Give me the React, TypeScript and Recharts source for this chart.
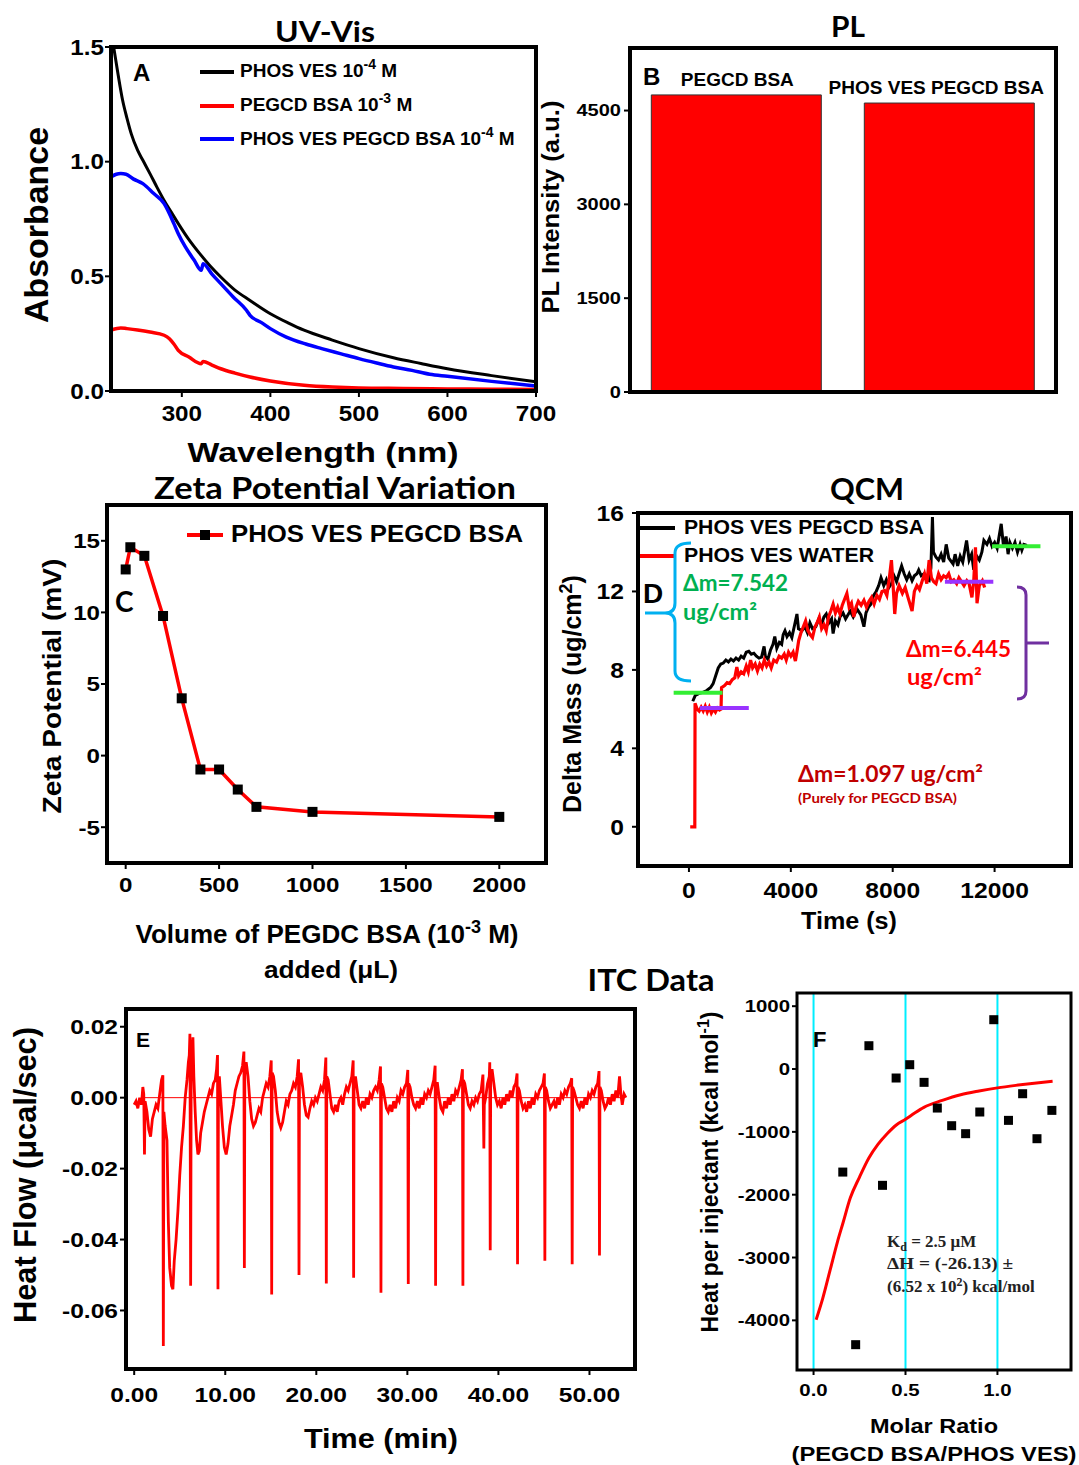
import React from 'react'
import {
  LineChart,
  Line,
  BarChart,
  Bar,
  ComposedChart,
  Scatter,
  XAxis,
  YAxis,
  ReferenceLine,
  LabelList,
} from 'recharts'

const SANS = '"Liberation Sans", Arial, sans-serif'
const CAL = 'Lato, "Open Sans", sans-serif'
const SERIF = '"Liberation Serif", "Times New Roman", serif'

// ---- A: UV-Vis, [wavelength nm, absorbance]
const uvPhosVes = [
  [223, 1.5], [228, 1.38], [233, 1.27], [238, 1.19], [243, 1.12], [250, 1.05], [256, 1.006],
  [264, 0.948], [272, 0.888], [280, 0.831], [288, 0.78], [296, 0.73], [308, 0.66], [320, 0.6],
  [332, 0.545], [344, 0.497], [360, 0.44], [377, 0.395], [400, 0.337], [420, 0.297], [438, 0.265],
  [470, 0.222], [500, 0.185], [539, 0.145], [570, 0.12], [600, 0.097], [650, 0.067], [700, 0.04],
]
const uvPegcd = [
  [221, 0.267], [231, 0.275], [238, 0.272], [250, 0.266], [264, 0.257], [280, 0.243], [286, 0.228],
  [291, 0.205], [296, 0.177], [308, 0.148], [322, 0.119], [324, 0.129], [334, 0.113], [344, 0.097],
  [360, 0.078], [377, 0.061], [400, 0.044], [438, 0.025], [470, 0.017], [500, 0.013], [550, 0.011],
  [600, 0.009], [650, 0.008], [700, 0.006],
]
const uvPhosPegcd = [
  [221, 0.936], [226, 0.945], [231, 0.948], [237, 0.945], [245, 0.925], [256, 0.904], [268, 0.862],
  [280, 0.817], [286, 0.773], [291, 0.73], [296, 0.686], [304, 0.628], [314, 0.57], [322, 0.526],
  [324, 0.555], [334, 0.51], [344, 0.468], [358, 0.41], [373, 0.352], [377, 0.33], [390, 0.298],
  [400, 0.272], [418, 0.235], [440, 0.205], [458, 0.185], [480, 0.162], [500, 0.141], [520, 0.122],
  [539, 0.105], [560, 0.09], [580, 0.073], [600, 0.064], [650, 0.042], [700, 0.022],
]
const uvTicksX = [300, 400, 500, 600, 700]
const uvTicksY = [0, 0.5, 1, 1.5]

// ---- B: PL
const plLabels = ['PEGCD BSA', 'PHOS VES PEGCD BSA']
const plValues = [4750, 4620]
const plTicks = [0, 1500, 3000, 4500]

// ---- C: zeta potential
const zetaVolume = [0, 25, 100, 200, 300, 400, 500, 600, 700, 1000, 2000]
const zetaPotential = [13.0, 14.55, 13.95, 9.75, 4.0, -0.97, -0.97, -2.37, -3.58, -3.93, -4.28]
const zetaTicksX = [0, 500, 1000, 1500, 2000]
const zetaTicksY = [-5, 0, 5, 10, 15]

// ---- D: QCM, [time s, delta mass]
const qcmBlack = [
  [150, 6.4], [250, 6.7], [400, 6.8], [550, 6.85], [700, 6.95], [850, 7.1], [950, 7.3], [1050, 7.7],
  [1150, 8.1], [1250, 8.3], [1350, 8.35], [1450, 8.5], [1550, 8.4], [1650, 8.55], [1750, 8.45],
  [1850, 8.6], [1950, 8.5], [2050, 8.7], [2150, 8.6], [2250, 8.9], [2350, 8.95], [2450, 8.8],
  [2550, 8.85], [2650, 8.7], [2750, 8.6], [2850, 8.65], [2950, 9.2], [3000, 8.7], [3100, 8.55],
  [3200, 9.0], [3300, 9.3], [3370, 9.7], [3450, 9.1], [3550, 9.4], [3640, 9.3], [3700, 9.8],
  [3770, 10.0], [3850, 9.7], [3950, 9.9], [4040, 9.65], [4150, 10.3], [4240, 10.85], [4300, 10.1],
  [4440, 10.0], [4550, 10.2], [4650, 9.9], [4750, 10.4], [4850, 10.1], [4980, 10.2], [5100, 10.6],
  [5200, 10.3], [5300, 10.7], [5390, 10.85], [5500, 10.4], [5600, 10.6], [5660, 9.85], [5750, 10.5],
  [5850, 10.3], [5930, 10.7], [6050, 10.9], [6150, 10.6], [6330, 11.0], [6450, 10.7], [6600, 11.1],
  [6750, 10.8], [6870, 10.2], [6950, 10.9], [7050, 11.2], [7140, 11.35], [7250, 11.8], [7350, 12.0],
  [7450, 12.3], [7540, 12.7], [7650, 12.3], [7750, 12.6], [7850, 12.2], [7950, 12.4], [8050, 12.8],
  [8150, 12.5], [8250, 12.9], [8350, 13.3], [8450, 12.9], [8550, 12.6], [8650, 12.9], [8760, 12.55],
  [8850, 12.8], [8950, 12.9], [9020, 13.1], [9120, 12.8], [9230, 12.9], [9330, 12.6], [9430, 12.55],
  [9500, 13.2], [9560, 15.8], [9600, 14.0], [9700, 13.75], [9800, 13.6], [9900, 13.9], [10000, 13.5],
  [10100, 14.4], [10200, 13.7], [10370, 13.4], [10450, 13.9], [10550, 13.3], [10650, 13.8],
  [10750, 13.5], [10900, 14.6], [11000, 13.6], [11100, 13.9], [11180, 13.1], [11300, 13.8],
  [11400, 13.6], [11500, 14.0], [11580, 14.6], [11700, 14.4], [11800, 14.7], [11900, 14.3],
  [12000, 14.5], [12100, 14.2], [12150, 14.6], [12260, 15.45], [12350, 14.3], [12450, 14.8],
  [12530, 13.9], [12600, 14.5], [12700, 14.2], [12800, 14.5], [12900, 14.0], [13000, 14.4],
  [13070, 14.1], [13150, 14.4], [13270, 14.35],
]
const qcmRed = [
  [50, 0], [230, 0], [240, 6.3], [320, 6.0], [400, 5.9], [480, 6.1], [560, 5.9], [640, 6.15],
  [720, 5.85], [800, 6.1], [880, 5.8], [960, 6.0], [1040, 5.85], [1120, 6.05], [1200, 5.95],
  [1260, 6.0], [1280, 7.1], [1400, 7.2], [1500, 7.35], [1600, 7.3], [1700, 7.5], [1800, 7.6],
  [1880, 8.15], [1950, 7.7], [2050, 7.9], [2150, 7.8], [2250, 8.2], [2330, 7.9], [2420, 8.5],
  [2500, 8.1], [2600, 8.3], [2690, 7.95], [2780, 8.3], [2870, 8.1], [2960, 8.5], [3050, 8.2],
  [3140, 8.4], [3230, 8.1], [3330, 8.5], [3440, 8.4], [3540, 8.7], [3640, 8.6], [3740, 8.8],
  [3820, 8.5], [3910, 8.9], [4000, 8.7], [4090, 8.9], [4180, 8.45], [4250, 9.0], [4310, 9.5],
  [4400, 9.9], [4490, 10.2], [4580, 10.5], [4670, 10.0], [4760, 9.8], [4850, 9.65], [4950, 10.2],
  [5030, 10.4], [5120, 10.7], [5210, 10.1], [5300, 10.3], [5390, 10.0], [5480, 10.7], [5570, 11.0],
  [5660, 11.35], [5750, 10.9], [5840, 11.2], [5930, 10.85], [6020, 11.3], [6110, 11.6], [6200, 11.9],
  [6290, 11.2], [6380, 11.4], [6470, 10.7], [6560, 11.2], [6650, 11.5], [6760, 11.3], [6870, 11.55],
  [6970, 11.2], [7070, 11.5], [7170, 11.7], [7270, 11.35], [7380, 11.8], [7480, 11.6], [7580, 12.0],
  [7680, 12.05], [7770, 11.8], [7860, 12.6], [7950, 13.6], [8020, 12.2], [8080, 10.85], [8150, 11.9],
  [8250, 12.3], [8380, 11.9], [8490, 12.2], [8600, 11.7], [8760, 11.0], [8850, 12.0], [8950, 12.3],
  [9050, 12.1], [9160, 12.55], [9250, 12.9], [9340, 12.4], [9430, 13.6], [9520, 12.7], [9610, 12.5],
  [9700, 12.4], [9800, 12.9], [9900, 12.6], [10000, 12.8], [10100, 12.7], [10200, 12.9],
  [10300, 12.5], [10400, 12.6], [10510, 12.4], [10600, 12.7], [10700, 12.5], [10800, 12.3],
  [10910, 12.55], [11000, 12.4], [11110, 11.7], [11180, 12.5], [11250, 14.25], [11310, 11.4],
  [11400, 12.3], [11520, 12.55], [11610, 12.2],
]
const qcmGreenLow = [[-600, 6.83], [1320, 6.83]]
const qcmGreenHigh = [[11900, 14.3], [13800, 14.3]]
const qcmPurpleLow = [[430, 6.06], [2350, 6.06]]
const qcmPurpleHigh = [[10050, 12.5], [11950, 12.5]]
const qcmTicksX = [0, 4000, 8000, 12000]
const qcmTicksY = [0, 4, 8, 12, 16]

// ---- E: ITC raw heat flow, [time min, µcal/sec]
const itcTrace = [
  [0.0, -0.002], [0.2, -0.001], [0.4, -0.003], [0.6, 0.0], [0.8, -0.002], [0.95, 0.003], [1.05, 0.001],
  [1.13, -0.016], [1.2, -0.001], [1.4, -0.004], [1.6, -0.009], [1.8, -0.011], [2.0, -0.006],
  [2.2, -0.004], [2.4, -0.002], [2.6, -0.003], [2.8, 0.001], [3.0, 0.005], [3.15, 0.0063],
  [3.2, -0.07], [3.26, -0.004], [3.4, -0.008], [3.6, -0.012], [3.75, -0.035], [3.9, -0.048],
  [4.1, -0.053], [4.25, -0.054], [4.4, -0.046], [4.6, -0.04], [4.8, -0.032], [5.0, -0.022],
  [5.2, -0.014], [5.4, -0.008], [5.6, 0.0], [5.8, 0.005], [5.95, 0.01], [6.05, 0.012], [6.12, 0.018],
  [6.2, -0.053], [6.26, 0.008], [6.35, 0.012], [6.45, 0.017], [6.55, 0.006], [6.7, -0.004],
  [6.85, -0.012], [7.0, -0.016], [7.15, -0.015], [7.3, -0.01], [7.5, -0.007], [7.7, -0.004],
  [7.9, -0.002], [8.1, 0.0], [8.3, 0.002], [8.5, 0.001], [8.7, 0.004], [8.9, 0.005], [9.05, 0.008],
  [9.15, 0.012], [9.2, -0.054], [9.25, 0.004], [9.35, 0.006], [9.5, 0.0], [9.7, -0.008],
  [9.9, -0.014], [10.1, -0.016], [10.3, -0.013], [10.5, -0.008], [10.7, -0.005], [10.9, -0.002],
  [11.1, 0.002], [11.3, 0.004], [11.5, 0.006], [11.7, 0.007], [11.9, 0.009], [12.05, 0.013],
  [12.1, -0.048], [12.15, 0.008], [12.3, 0.01], [12.5, 0.006], [12.7, -0.001], [12.9, -0.006],
  [13.1, -0.008], [13.3, -0.007], [13.5, -0.005], [13.7, -0.003], [13.9, -0.004], [14.1, 0.0],
  [14.3, 0.002], [14.5, 0.004], [14.7, 0.003], [14.9, 0.006], [15.05, 0.0105], [15.1, -0.0555],
  [15.15, 0.007], [15.3, 0.006], [15.5, 0.002], [15.7, -0.004], [15.9, -0.007], [16.1, -0.0085],
  [16.3, -0.007], [16.5, -0.004], [16.7, -0.001], [16.9, -0.002], [17.1, 0.001], [17.3, 0.002],
  [17.5, 0.004], [17.7, 0.003], [17.9, 0.006], [18.05, 0.0108], [18.1, -0.05], [18.15, 0.006],
  [18.3, 0.007], [18.5, 0.003], [18.7, -0.002], [18.9, -0.005], [19.1, -0.0055], [19.3, -0.003],
  [19.5, -0.001], [19.7, -0.002], [19.9, 0.0], [20.1, -0.001], [20.3, 0.001], [20.5, 0.003],
  [20.7, 0.002], [20.9, 0.005], [21.05, 0.0113], [21.1, -0.0524], [21.15, 0.006], [21.3, 0.005],
  [21.5, 0.001], [21.7, -0.003], [21.9, -0.004], [22.1, -0.002], [22.3, -0.004], [22.5, -0.001],
  [22.7, 0.0], [22.9, -0.002], [23.1, 0.001], [23.3, 0.003], [23.5, 0.002], [23.7, 0.004],
  [23.9, 0.006], [24.05, 0.0105], [24.1, -0.0508], [24.15, 0.005], [24.3, 0.006], [24.5, 0.002],
  [24.7, -0.002], [24.9, -0.003], [25.1, -0.001], [25.3, -0.003], [25.5, 0.0], [25.7, -0.002],
  [25.9, 0.001], [26.1, 0.0], [26.3, 0.002], [26.5, 0.003], [26.7, 0.002], [26.9, 0.005],
  [27.05, 0.0088], [27.1, -0.055], [27.15, 0.004], [27.3, 0.003], [27.5, 0.0], [27.7, -0.003],
  [27.9, -0.004], [28.1, -0.002], [28.3, -0.004], [28.5, -0.001], [28.7, -0.003], [28.9, 0.0],
  [29.1, -0.001], [29.3, 0.002], [29.5, 0.001], [29.7, 0.003], [29.9, 0.004], [30.05, 0.0078],
  [30.1, -0.0525], [30.15, 0.004], [30.3, 0.003], [30.5, 0.0], [30.7, -0.002], [30.9, -0.003],
  [31.1, -0.001], [31.3, -0.003], [31.5, 0.0], [31.7, -0.002], [31.9, 0.001], [32.1, 0.0],
  [32.3, 0.002], [32.5, 0.001], [32.7, 0.003], [32.9, 0.005], [33.05, 0.009], [33.1, -0.053],
  [33.15, 0.004], [33.3, 0.004], [33.5, 0.0], [33.7, -0.003], [33.9, -0.004], [34.1, -0.001],
  [34.3, -0.003], [34.5, 0.0], [34.7, -0.002], [34.9, 0.001], [35.1, -0.001], [35.3, 0.002],
  [35.5, 0.001], [35.7, 0.003], [35.9, 0.005], [36.05, 0.008], [36.1, -0.053], [36.15, 0.005],
  [36.3, 0.004], [36.5, 0.001], [36.7, -0.002], [36.9, -0.003], [37.1, -0.001], [37.3, -0.002],
  [37.5, 0.0], [37.7, -0.001], [37.9, 0.001], [38.1, 0.002], [38.3, 0.0065], [38.4, -0.0143],
  [38.45, -0.002], [38.6, 0.0], [38.8, 0.004], [39.0, 0.006], [39.05, 0.01], [39.1, -0.043],
  [39.15, 0.006], [39.3, 0.008], [39.5, 0.004], [39.7, 0.0], [39.9, -0.002], [40.1, -0.001],
  [40.3, -0.003], [40.5, 0.0], [40.7, -0.002], [40.9, 0.001], [41.1, -0.001], [41.3, 0.002],
  [41.5, 0.0], [41.7, 0.003], [41.9, 0.004], [42.05, 0.0068], [42.1, -0.047], [42.15, 0.003],
  [42.3, 0.002], [42.5, -0.001], [42.7, -0.003], [42.9, -0.002], [43.1, -0.004], [43.3, -0.001],
  [43.5, -0.003], [43.7, 0.0], [43.9, -0.002], [44.1, 0.001], [44.3, 0.0], [44.5, 0.002],
  [44.7, 0.003], [44.9, 0.004], [45.05, 0.0068], [45.1, -0.046], [45.15, 0.003], [45.3, 0.002],
  [45.5, -0.001], [45.7, -0.003], [45.9, -0.002], [46.1, -0.001], [46.3, -0.003], [46.5, 0.0],
  [46.7, -0.002], [46.9, 0.001], [47.1, 0.0], [47.3, 0.002], [47.5, 0.001], [47.7, 0.003],
  [47.9, 0.004], [48.05, 0.0055], [48.1, -0.047], [48.15, 0.003], [48.3, 0.002], [48.5, 0.0],
  [48.7, -0.002], [48.9, -0.003], [49.1, -0.001], [49.3, -0.003], [49.5, 0.0], [49.7, -0.002],
  [49.9, 0.001], [50.1, 0.0], [50.3, 0.002], [50.5, 0.001], [50.7, 0.003], [50.9, 0.004],
  [51.05, 0.0075], [51.1, -0.0445], [51.15, 0.003], [51.3, 0.002], [51.5, -0.001], [51.7, -0.003],
  [51.9, -0.002], [52.1, 0.0], [52.3, -0.002], [52.5, 0.001], [52.7, -0.001], [52.9, 0.002],
  [53.1, 0.0], [53.3, 0.006], [53.45, 0.001], [53.6, -0.002], [53.8, 0.001], [54.0, 0.0],
]
const itcBaseline = [[0.9, 0], [53.9, 0]]
const itcTicksX = [0, 10, 20, 30, 40, 50]
const itcTicksY = [-0.06, -0.04, -0.02, 0, 0.02]

// ---- F: ITC isotherm
const isoRatio = [0.159, 0.229, 0.301, 0.375, 0.449, 0.523, 0.601, 0.673, 0.751, 0.827, 0.904, 0.98, 1.06, 1.137, 1.215, 1.296]
const isoHeat = [-1640, -4387, 371, -1851, -143, 69, -212, -621, -902, -1029, -684, 785, -817, -393, -1109, -658]
const fitRatio = [0.014, 0.05, 0.09, 0.13, 0.16, 0.2, 0.25, 0.3, 0.35, 0.4, 0.45, 0.5, 0.55, 0.6, 0.7, 0.8, 0.9, 1.0, 1.1, 1.2, 1.3]
const fitHeat = [-3990, -3650, -3200, -2750, -2450, -2050, -1720, -1420, -1200, -1030, -890, -800, -700, -610, -500, -410, -350, -300, -260, -225, -195]
const isoGuides = [0, 0.5, 1.0]
const isoTicksX = [0, 0.5, 1.0]
const isoTicksY = [-4000, -3000, -2000, -1000, 0, 1000]

const xy = (pairs: number[][]) => pairs.map(([x, y]) => ({ x, y }))
const zip = (xs: number[], ys: number[]) => xs.map((x, i) => ({ x, y: ys[i] }))

type Box = { l: number; r: number; t: number; b: number }
const TOP = 20
const RIGHT = 40
const boxA: Box = { l: 111, r: 536, t: 47, b: 391 }
const boxB: Box = { l: 630, r: 1056, t: 48, b: 392 }
const boxC: Box = { l: 107, r: 546, t: 505, b: 863 }
const boxD: Box = { l: 638, r: 1071, t: 513, b: 866 }
const boxE: Box = { l: 126, r: 635, t: 1009, b: 1369 }
const boxF: Box = { l: 797, r: 1071, t: 993, b: 1370 }

const place = (box: Box, wy: number): React.CSSProperties => ({
  position: 'absolute',
  left: box.l - wy,
  top: box.t - TOP,
})
const size = (box: Box, wy: number, hx: number) => ({
  width: box.r - box.l + wy + RIGHT,
  height: box.b - box.t + hx + TOP,
  margin: { top: TOP, right: RIGHT, left: 0, bottom: 0 },
})
const tickLn = { stroke: '#000', strokeWidth: 2 }

// tick text in the source is wide and heavy, so it is stretched a little sideways
const stretchTick = (fs: number, sx: number, axis: 'x' | 'y', fmt?: (v: number) => string) => (p: any) => {
  const { x, y, payload, textAnchor } = p
  const label = fmt ? fmt(payload.value) : String(payload.value)
  return (
    <text x={x} y={y} dy={axis === 'x' ? '0.71em' : '0.355em'} textAnchor={textAnchor} fontSize={fs}
      fontWeight={700} fontFamily={SANS} fill="#000"
      transform={`translate(${x} ${y}) scale(${sx} 1) translate(${-x} ${-y})`}>
      {label}
    </text>
  )
}
const f1 = (v: number) => v.toFixed(1)
const f2 = (v: number) => v.toFixed(2)

function PanelA() {
  const wy = 70
  const hx = 45
  return (
    <div style={place(boxA, wy)}>
      <LineChart {...size(boxA, wy, hx)}>
        <XAxis type="number" dataKey="x" domain={[220, 700]} ticks={uvTicksX} allowDataOverflow interval={0}
          height={hx} axisLine={false} tick={stretchTick(22, 1.1, 'x')} tickLine={tickLn} tickSize={6} tickMargin={8} />
        <YAxis type="number" domain={[0, 1.5]} ticks={uvTicksY} allowDataOverflow interval={0} width={wy}
          axisLine={false} tick={stretchTick(22, 1.1, 'y', f1)} tickLine={tickLn} tickSize={6} tickMargin={1} />
        <Line data={xy(uvPegcd)} dataKey="y" type="monotone" stroke="#ff0000" strokeWidth={3.5} dot={false} isAnimationActive={false} />
        <Line data={xy(uvPhosVes)} dataKey="y" type="monotone" stroke="#000000" strokeWidth={3} dot={false} isAnimationActive={false} />
        <Line data={xy(uvPhosPegcd)} dataKey="y" type="monotone" stroke="#0000ff" strokeWidth={3.5} dot={false} isAnimationActive={false} />
      </LineChart>
    </div>
  )
}

// the second bar's caption sits a little left of its bar in the source
const barCaption = (p: any) => {
  const shift = p.index === 1 ? -13 : 1
  return (
    <text key={`cap-${p.index}`} x={p.x + p.width / 2 + shift} y={p.y - 9} textAnchor="middle" fill="#000"
      fontSize={19} fontWeight={700} fontFamily={SANS}>
      {p.value}
    </text>
  )
}

function PanelB() {
  const wy = 70
  const hx = 24
  const data = plLabels.map((name, i) => ({ name, value: plValues[i] }))
  return (
    <div style={place(boxB, wy)}>
      <BarChart data={data} barCategoryGap="10%" {...size(boxB, wy, hx)}>
        <XAxis dataKey="name" height={hx} tick={false} tickLine={false} axisLine={false} />
        <YAxis type="number" domain={[0, 5500]} ticks={plTicks} allowDataOverflow interval={0} width={wy}
          axisLine={false} tick={stretchTick(16, 1.25, 'y')} tickLine={tickLn} tickSize={6} tickMargin={3} />
        <Bar dataKey="value" fill="#ff0000" stroke="#333" strokeWidth={1} isAnimationActive={false}>
          <LabelList dataKey="name" content={barCaption} />
        </Bar>
      </BarChart>
    </div>
  )
}

const squareDot = (s: number) => (p: any) => (
  <rect key={`sq-${p.index}`} x={p.cx - s / 2} y={p.cy - s / 2} width={s} height={s} fill="#000" />
)

function PanelC() {
  const wy = 70
  const hx = 45
  return (
    <div style={place(boxC, wy)}>
      <LineChart {...size(boxC, wy, hx)}>
        <XAxis type="number" dataKey="x" domain={[-100, 2250]} ticks={zetaTicksX} allowDataOverflow interval={0}
          height={hx} axisLine={false} tick={stretchTick(21, 1.15, 'x')} tickLine={tickLn} tickSize={6} tickMargin={8} />
        <YAxis type="number" domain={[-7.5, 17.5]} ticks={zetaTicksY} allowDataOverflow interval={0} width={wy}
          axisLine={false} tick={stretchTick(21, 1.15, 'y')} tickLine={tickLn} tickSize={6} tickMargin={1} />
        <Line data={zip(zetaVolume, zetaPotential)} dataKey="y" type="linear" stroke="#ff0000" strokeWidth={3.5}
          dot={squareDot(10)} activeDot={false} isAnimationActive={false} />
      </LineChart>
    </div>
  )
}

function PanelD() {
  const wy = 80
  const hx = 50
  return (
    <div style={place(boxD, wy)}>
      <LineChart {...size(boxD, wy, hx)}>
        <XAxis type="number" dataKey="x" domain={[-2000, 15000]} ticks={qcmTicksX} allowDataOverflow interval={0}
          height={hx} axisLine={false} tick={stretchTick(22, 1.12, 'x')} tickLine={tickLn} tickSize={6} tickMargin={10} />
        <YAxis type="number" domain={[-2, 16]} ticks={qcmTicksY} allowDataOverflow interval={0} width={wy}
          axisLine={false} tick={stretchTick(22, 1.12, 'y')} tickLine={tickLn} tickSize={6} tickMargin={8} />
        <Line data={xy(qcmBlack)} dataKey="y" type="linear" stroke="#000" strokeWidth={3} dot={false} isAnimationActive={false} />
        <Line data={xy(qcmRed)} dataKey="y" type="linear" stroke="#ff0000" strokeWidth={3.2} dot={false} isAnimationActive={false} />
        <Line data={xy(qcmGreenLow)} dataKey="y" stroke="#33ee33" strokeWidth={4} dot={false} isAnimationActive={false} />
        <Line data={xy(qcmGreenHigh)} dataKey="y" stroke="#33ee33" strokeWidth={4} dot={false} isAnimationActive={false} />
        <Line data={xy(qcmPurpleLow)} dataKey="y" stroke="#9933ff" strokeWidth={4} dot={false} isAnimationActive={false} />
        <Line data={xy(qcmPurpleHigh)} dataKey="y" stroke="#9933ff" strokeWidth={4} dot={false} isAnimationActive={false} />
      </LineChart>
    </div>
  )
}

function PanelE() {
  const wy = 80
  const hx = 50
  return (
    <div style={place(boxE, wy)}>
      <LineChart {...size(boxE, wy, hx)}>
        <XAxis type="number" dataKey="x" domain={[-0.9, 55]} ticks={itcTicksX} allowDataOverflow interval={0}
          height={hx} axisLine={false} tick={stretchTick(21, 1.17, 'x', f2)} tickLine={tickLn} tickSize={6} tickMargin={12} />
        <YAxis type="number" domain={[-0.0765, 0.025]} ticks={itcTicksY} allowDataOverflow interval={0} width={wy}
          axisLine={false} tick={stretchTick(21, 1.17, 'y', f2)} tickLine={tickLn} tickSize={6} tickMargin={2} />
        <Line data={xy(itcBaseline)} dataKey="y" stroke="#ff0000" strokeWidth={1} dot={false} isAnimationActive={false} />
        <Line data={xy(itcTrace)} dataKey="y" type="linear" stroke="#ff0000" strokeWidth={2.8} dot={false} isAnimationActive={false} />
      </LineChart>
    </div>
  )
}

function PanelF() {
  const wy = 70
  const hx = 45
  return (
    <div style={place(boxF, wy)}>
      <ComposedChart {...size(boxF, wy, hx)}>
        <XAxis type="number" dataKey="x" domain={[-0.09, 1.4]} ticks={isoTicksX} allowDataOverflow interval={0}
          height={hx} axisLine={false} tick={stretchTick(17, 1.2, 'x', f1)} tickLine={tickLn} tickSize={5} tickMargin={9} />
        <YAxis type="number" dataKey="y" domain={[-4790, 1210]} ticks={isoTicksY} allowDataOverflow interval={0} width={wy}
          axisLine={false} tick={stretchTick(17, 1.2, 'y')} tickLine={tickLn} tickSize={5} tickMargin={2} />
        {isoGuides.map((g) => (
          <ReferenceLine key={g} x={g} stroke="#00eeff" strokeWidth={2} />
        ))}
        <Scatter data={zip(isoRatio, isoHeat)} dataKey="y" shape={squareDot(9)} isAnimationActive={false} />
        <Line data={zip(fitRatio, fitHeat)} dataKey="y" type="monotone" stroke="#ff0000" strokeWidth={3} dot={false} isAnimationActive={false} />
      </ComposedChart>
    </div>
  )
}

type TProps = {
  x: number
  y: number
  fs: number
  font?: string
  anchor?: 'start' | 'middle' | 'end'
  len?: number
  rot?: boolean
  color?: string
  children: React.ReactNode
}
function T({ x, y, fs, font = SANS, anchor = 'start', len, rot, color = '#000', children }: TProps) {
  return (
    <text x={x} y={y} fontSize={fs} fontFamily={font} fontWeight={700} fill={color} textAnchor={anchor}
      textLength={len} lengthAdjust={len ? 'spacingAndGlyphs' : undefined}
      transform={rot ? `rotate(-90 ${x} ${y})` : undefined}>
      {children}
    </text>
  )
}

const frame = (b: Box, w = 4) => (
  <rect x={b.l} y={b.t} width={b.r - b.l} height={b.b - b.t} fill="none" stroke="#000" strokeWidth={w} />
)

function Overlay() {
  return (
    <svg width={1079} height={1465} style={{ position: 'absolute', left: 0, top: 0, pointerEvents: 'none' }}>
      {frame(boxA)}
      {frame(boxB)}
      {frame(boxC)}
      {frame(boxD)}
      {frame(boxE)}
      {frame(boxF, 3)}

      {/* titles */}
      <T x={325} y={42} fs={29} font={CAL} anchor="middle" len={100}>UV-Vis</T>
      <T x={848} y={37} fs={28} font={CAL} anchor="middle" len={34}>PL</T>
      <T x={335} y={499} fs={31} font={CAL} anchor="middle" len={362}>Zeta Potential Variation</T>
      <T x={867} y={500} fs={30} font={CAL} anchor="middle" len={74}>QCM</T>
      <T x={651} y={991} fs={30} font={CAL} anchor="middle" len={127}>ITC Data</T>

      {/* A */}
      <T x={48} y={225} fs={33} anchor="middle" rot len={196}>Absorbance</T>
      <T x={323} y={462} fs={28} anchor="middle" len={271}>Wavelength (nm)</T>
      <T x={133} y={81} fs={24}>A</T>
      <line x1={200} x2={234} y1={72} y2={72} stroke="#000" strokeWidth={4} />
      <line x1={200} x2={234} y1={106} y2={106} stroke="#ff0000" strokeWidth={4} />
      <line x1={200} x2={234} y1={139} y2={139} stroke="#0000ff" strokeWidth={4} />
      <T x={240} y={77} fs={19}>PHOS VES 10<tspan dy={-8} fontSize={14}>-4</tspan><tspan dy={8}> M</tspan></T>
      <T x={240} y={111} fs={19}>PEGCD BSA 10<tspan dy={-8} fontSize={14}>-3</tspan><tspan dy={8}> M</tspan></T>
      <T x={240} y={145} fs={19}>PHOS VES PEGCD BSA 10<tspan dy={-8} fontSize={14}>-4</tspan><tspan dy={8}> M</tspan></T>

      {/* B */}
      <T x={559} y={207} fs={24} anchor="middle" rot len={213}>PL Intensity (a.u.)</T>
      <T x={643} y={85} fs={24}>B</T>

      {/* C */}
      <T x={61} y={686} fs={26} anchor="middle" rot len={255}>Zeta Potential (mV)</T>
      <T x={327} y={943} fs={26} anchor="middle">Volume of PEGDC BSA (10<tspan dy={-10} fontSize={18}>-3</tspan><tspan dy={10}> M)</tspan></T>
      <T x={331} y={978} fs={24} anchor="middle" len={134}>added (μL)</T>
      <T x={115} y={612} fs={28} font={CAL}>C</T>
      <line x1={187} x2={200} y1={535} y2={535} stroke="#ff0000" strokeWidth={4} />
      <line x1={210} x2={223} y1={535} y2={535} stroke="#ff0000" strokeWidth={4} />
      <rect x={200} y={530} width={10} height={10} fill="#000" />
      <T x={231} y={542} fs={23} len={292}>PHOS VES PEGCD BSA</T>

      {/* D */}
      <T x={581} y={694} fs={25} anchor="middle" rot>Delta Mass (ug/cm<tspan dy={-9} fontSize={18}>2</tspan><tspan dy={9}>)</tspan></T>
      <T x={849} y={929} fs={23} anchor="middle" len={96}>Time (s)</T>
      <T x={643} y={603} fs={28}>D</T>
      <line x1={640} x2={675} y1={528} y2={528} stroke="#000" strokeWidth={4} />
      <line x1={640} x2={675} y1={556} y2={556} stroke="#ff0000" strokeWidth={4} />
      <T x={684} y={534} fs={20} len={240}>PHOS VES PEGCD BSA</T>
      <T x={684} y={562} fs={20} len={190}>PHOS VES WATER</T>
      <path d="M691 543 Q675 543 675 553 L675 603 Q675 613 665 613 L645 613 M665 613 Q675 613 675 623 L675 671 Q675 681 691 681"
        fill="none" stroke="#00b0f0" strokeWidth={3} />
      <path d="M1017 587 Q1026 587 1026 595 L1026 691 Q1026 699 1017 699 M1026 643 L1049 643"
        fill="none" stroke="#7030a0" strokeWidth={3} />
      <T x={683} y={591} fs={22} font={CAL} color="#00b050" len={105}>Δm=7.542</T>
      <T x={683} y={620} fs={22} font={CAL} color="#00b050" len={74}>ug/cm²</T>
      <T x={906} y={657} fs={22} font={CAL} color="#ff0000" len={105}>Δm=6.445</T>
      <T x={907} y={685} fs={22} font={CAL} color="#ff0000" len={75}>ug/cm²</T>
      <T x={798} y={782} fs={22} font={CAL} color="#c00000" len={185}>Δm=1.097 ug/cm²</T>
      <T x={798} y={803} fs={14} font={CAL} color="#c00000" len={159}>(Purely for PEGCD BSA)</T>

      {/* E */}
      <T x={36} y={1175} fs={31} anchor="middle" rot len={296}>Heat Flow (μcal/sec)</T>
      <T x={381} y={1448} fs={27} anchor="middle" len={154}>Time (min)</T>
      <T x={136} y={1047} fs={21}>E</T>

      {/* F */}
      <T x={718} y={1172} fs={23} anchor="middle" rot>Heat per injectant (kcal mol<tspan dy={-9} fontSize={16}>-1</tspan><tspan dy={9}>)</tspan></T>
      <T x={934} y={1433} fs={21} anchor="middle" len={128}>Molar Ratio</T>
      <T x={934} y={1461} fs={21} anchor="middle" len={285}>(PEGCD BSA/PHOS VES)</T>
      <T x={813} y={1047} fs={22}>F</T>
      <T x={887} y={1247} fs={17} font={SERIF} color="#222">K<tspan dy={4} fontSize={12}>d</tspan><tspan dy={-4}> = 2.5 μM</tspan></T>
      <T x={887} y={1269} fs={17} font={SERIF} color="#222" len={126}>ΔH = (-26.13) ±</T>
      <T x={887} y={1292} fs={17} font={SERIF} color="#222">(6.52 x 10<tspan dy={-6} fontSize={12}>2</tspan><tspan dy={6}>) kcal/mol</tspan></T>
    </svg>
  )
}

export default function App() {
  return (
    <div style={{ position: 'absolute', left: 0, top: 0, width: 1079, height: 1465, background: '#fff', overflow: 'hidden' }}>
      <PanelA />
      <PanelB />
      <PanelC />
      <PanelD />
      <PanelE />
      <PanelF />
      <Overlay />
    </div>
  )
}
